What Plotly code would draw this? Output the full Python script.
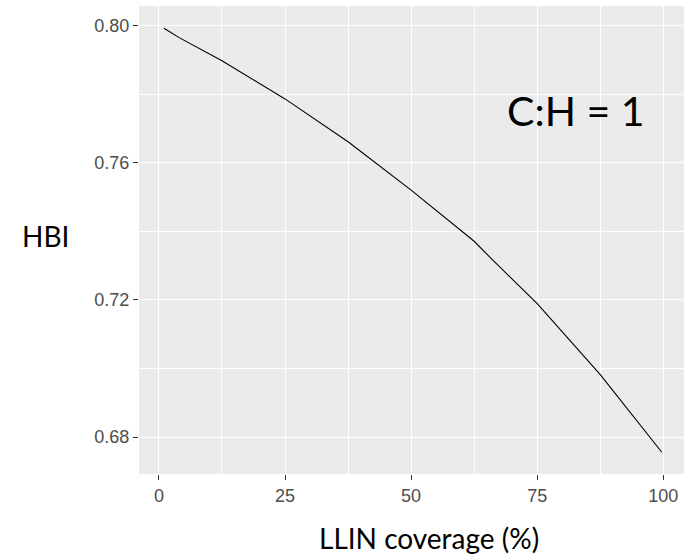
import plotly.graph_objects as go

# LLIN coverage (%) and HBI values
coverage = [1, 4.1, 12.5, 25, 37.5, 47.7, 50, 62.5, 66.2, 75, 85.4, 87.5, 99.7]
hbi = [0.7992, 0.7964, 0.7897, 0.7786, 0.7661, 0.7548, 0.7520, 0.7371, 0.7316,
       0.7189, 0.7018, 0.6982, 0.6756]

x_ticks = [0, 25, 50, 75, 100]
y_ticks = [0.68, 0.72, 0.76, 0.80]
y_tick_text = ["0.68", "0.72", "0.76", "0.80"]

fig = go.Figure()
fig.add_trace(go.Scatter(x=coverage, y=hbi, mode="lines",
                         line=dict(color="black", width=1.1), showlegend=False,
                         hoverinfo="skip"))

tick_font = dict(family="Liberation Sans, Arial, sans-serif", size=18, color="#4D4D4D")
label_font = dict(family="Lato, Open Sans, sans-serif", size=28, color="black")

fig.update_layout(
    width=684, height=554,
    margin=dict(l=139, r=0, t=6, b=80),
    paper_bgcolor="white",
    plot_bgcolor="#EBEBEB",
    xaxis=dict(range=[-3.95, 104.1], tickvals=x_ticks, ticktext=[str(v) for v in x_ticks],
               showgrid=True, gridcolor="white", gridwidth=1.4, zeroline=False,
               ticks="outside", ticklen=5, tickwidth=1, tickcolor="#333333",
               tickfont=tick_font, showline=False,
               minor=dict(tickvals=[12.5, 37.5, 62.5, 87.5], showgrid=True,
                          gridcolor="white", gridwidth=0.8, ticks="")),
    yaxis=dict(range=[0.66925, 0.80569], tickvals=y_ticks, ticktext=y_tick_text,
               showgrid=True, gridcolor="white", gridwidth=1.4, zeroline=False,
               ticks="outside", ticklen=5, tickwidth=1, tickcolor="#333333",
               tickfont=tick_font, showline=False,
               minor=dict(tickvals=[0.70, 0.74, 0.78], showgrid=True,
                          gridcolor="white", gridwidth=0.8, ticks="")),
    annotations=[
        dict(text="C:H = 1", x=82.7, y=0.7751, xref="x", yref="y", showarrow=False,
             font=dict(family="Lato, Open Sans, sans-serif", size=41, color="black"),
             xanchor="center", yanchor="middle"),
        dict(text="HBI", x=0, xref="paper", xshift=-94, y=0.7386, yref="y",
             showarrow=False, font=label_font, xanchor="center", yanchor="middle"),
        dict(text="LLIN coverage (%)", x=53.5, xref="x", y=0, yref="paper", yshift=-64,
             showarrow=False, font=label_font, xanchor="center", yanchor="middle"),
    ],
)

fig.write_html("out.html", config={"displayModeBar": False},
               post_script="document.body.style.margin='0';")
